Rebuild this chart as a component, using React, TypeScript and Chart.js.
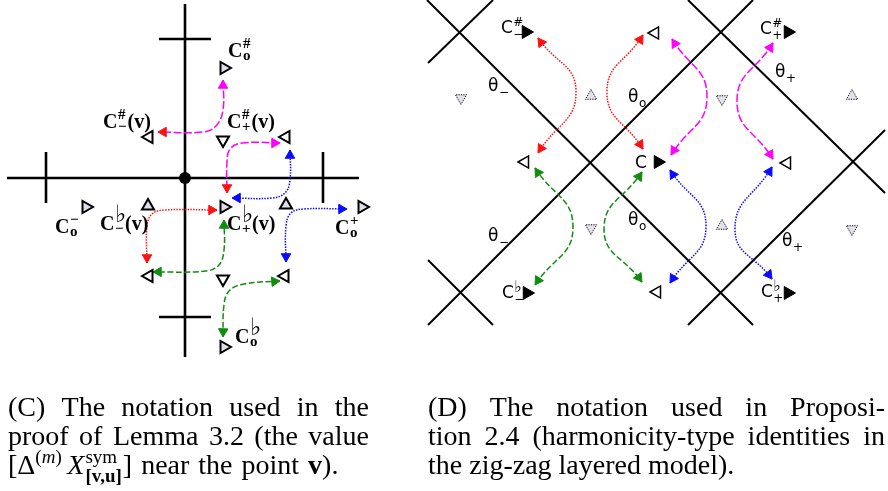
import { useEffect, useRef } from 'react';
import { Chart, registerables } from 'chart.js';

Chart.register(...registerables);

// ================= Panel (C) =================
const axisLinesC = [
  [185, 4, 185, 357],
  [7, 178, 359, 178],
  [159, 39, 211, 39],
  [159, 317, 211, 317],
  [46, 152, 46, 203],
  [323, 152, 323, 203],
];
const centerDotC = [[185, 178]];
const triRightC = [[224, 68], [86, 207], [224, 207], [362, 207], [224, 347]];
const triLeftC = [[149, 137], [286, 137], [149, 276], [285, 276]];
const triUpC = [[148, 206], [286, 205]];
const triDownC = [[223, 140], [223, 279]];

const arcMagentaUpC = [[223, 80], [223, 110], [216, 126], [203, 132], [158, 132]];
const arcMagentaRightC = [[280, 143], [242, 143], [230, 149], [227, 162], [227, 193]];
const arcBlueUpC = [[290, 150], [290, 180], [285, 193], [272, 198], [232, 198]];
const arcRedDownC = [[147, 263], [147, 226], [152, 214], [165, 210], [217, 210]];
const arcBlueDownC = [[286, 262], [286, 226], [291, 213], [304, 209], [347, 209]];
const arcGreenUpC = [[224, 220], [224, 250], [219, 265], [206, 271], [153, 272]];
const arcGreenRightC = [[280, 281], [244, 284], [229, 291], [224, 305], [223, 337]];

const labelsC = [
  { text: 'C', sup: '#', sub: 'o', tail: '', x: 228, y: 57 },
  { text: 'C', sup: '#', sub: '\u2212', tail: '(v)', x: 103, y: 128 },
  { text: 'C', sup: '#', sub: '+', tail: '(v)', x: 227, y: 128 },
  { text: 'C', sup: '\u2212', sub: 'o', tail: '', x: 55, y: 233 },
  { text: 'C', sup: '\u266D', sub: '\u2212', tail: '(v)', x: 100, y: 230 },
  { text: 'C', sup: '\u266D', sub: '+', tail: '(v)', x: 227, y: 230 },
  { text: 'C', sup: '+', sub: 'o', tail: '', x: 335, y: 234 },
  { text: 'C', sup: '\u266D', sub: 'o', tail: '', x: 235, y: 343 },
];

// ================= Panel (D) =================
const gridLinesD = [
  [428, 63, 493, 0],
  [427, 0, 753, 325],
  [428, 325, 753, 0],
  [428, 260, 493, 325],
  [688, 0, 885, 193],
  [688, 325, 885, 130],
];
const solidRightD = [[526, 32], [788, 32], [658, 162], [527, 293], [788, 293]];
const openLeftD = [[655, 33], [525, 162], [787, 163], [657, 292]];
const dottedUpD = [[591, 96], [852, 96], [722, 226]];
const dottedDownD = [[461, 98], [722, 99], [591, 228], [852, 229]];

const arcRedAD = [[538, 38], [576, 92], [538, 153]];
const arcRedBD = [[643, 35], [607, 92], [643, 149]];
const arcMagentaAD = [[672, 39], [707, 97], [671, 155]];
const arcMagentaBD = [[773, 43], [737, 101], [773, 159]];
const arcGreenAD = [[535, 168], [573, 227], [535, 285]];
const arcGreenBD = [[642, 172], [604, 229], [642, 282]];
const arcBlueAD = [[670, 170], [706, 226], [670, 283]];
const arcBlueBD = [[772, 167], [735, 229], [772, 279]];

const labelsD = [
  { text: 'C', sup: '#', sub: '\u2212', x: 501, y: 33 },
  { text: 'C', sup: '#', sub: '+', x: 760, y: 34 },
  { text: 'C', sup: '', sub: '', x: 635, y: 168 },
  { text: 'C', sup: '\u266D', sub: '\u2212', x: 502, y: 298 },
  { text: 'C', sup: '\u266D', sub: '+', x: 761, y: 297 },
  { text: '\u03B8', sup: '', sub: '\u2212', x: 488, y: 91 },
  { text: '\u03B8', sup: '', sub: 'o', x: 628, y: 102 },
  { text: '\u03B8', sup: '', sub: '+', x: 775, y: 77 },
  { text: '\u03B8', sup: '', sub: '\u2212', x: 488, y: 241 },
  { text: '\u03B8', sup: '', sub: 'o', x: 628, y: 225 },
  { text: '\u03B8', sup: '', sub: '+', x: 782, y: 246 },
];

// ================= Captions =================
const captionCLines = ['(C) The notation used in the', 'proof of Lemma 3.2 (the value'];
const captionCLast = [
  { t: '[\u0394', f: 'r', dy: 0 },
  { t: '(', f: 'rs', dy: -11 },
  { t: 'm', f: 'is', dy: -11 },
  { t: ')', f: 'rs', dy: -11 },
  { t: '\u2009X', f: 'i', dy: 0 },
  { t: 'sym', f: 'rs', dy: -11, stack: true },
  { t: '[v,u]', f: 'bs', dy: 8 },
  { t: ']', f: 'r', dy: 0 },
  { t: ' near the point ', f: 'r', dy: 0, spaced: true },
  { t: 'v', f: 'b', dy: 0 },
  { t: ').', f: 'r', dy: 0 },
];
const captionDLines = ['(D) The notation used in Proposi-', 'tion 2.4 (harmonicity-type identities in'];
const captionDLast = 'the zig-zag layered model).';
const captionBaselines = [416, 445, 474];
const captionCRange = [8, 369];
const captionDRange = [428, 885];

// ================= styles =================
const RED = '#ff1010';
const MAGENTA = '#ff00ff';
const BLUE = '#0a0aff';
const GREEN = '#108c10';
const DOT = [1.5, 1.3];
const LONGDASH = [8, 2.5];
const DASH = [6, 2.5];
const HEAD_R = 5.5;

const SERIF = '"Liberation Serif", "DejaVu Serif", serif';
const SANS = '"DejaVu Sans", sans-serif';

const pt = (p: number[]) => ({ x: p[0], y: p[1] });

function segDataset(s: number[], width: number) {
  return {
    data: [pt([s[0], s[1]]), pt([s[2], s[3]])],
    borderColor: '#000',
    borderWidth: width,
    pointRadius: 0,
    tension: 0,
    fill: false,
    order: 6,
    borderCapStyle: 'butt',
  };
}

function curveDataset(pts: number[][], color: string, dash: number[], tension: number) {
  return {
    data: pts.map(pt),
    borderColor: color,
    borderWidth: 1.5,
    borderDash: dash,
    pointRadius: 0,
    tension,
    fill: false,
    order: 5,
  };
}

function headsFor(pts: number[][], colors: string[]) {
  const n = pts.length;
  const ends = [
    [pts[0], pts[1]],
    [pts[n - 1], pts[n - 2]],
  ];
  return ends.map(([tip, prev], k) => {
    const dx = tip[0] - prev[0];
    const dy = tip[1] - prev[1];
    const len = Math.hypot(dx, dy) || 1;
    return {
      x: tip[0] - (dx / len) * HEAD_R,
      y: tip[1] - (dy / len) * HEAD_R,
      rot: (Math.atan2(dx, -dy) * 180) / Math.PI,
      color: colors[k],
    };
  });
}

function markerDataset(pts: number[][], rotation: number, radius: number, fill: string, border: string, bw: number, extra: any = {}) {
  return {
    data: pts.map(pt),
    showLine: false,
    pointStyle: 'triangle',
    pointRotation: rotation,
    pointRadius: radius,
    pointHoverRadius: radius,
    pointBackgroundColor: fill,
    pointBorderColor: border,
    pointBorderWidth: bw,
    pointHoverBorderWidth: bw,
    order: 2,
    ...extra,
  };
}

function drawScripted(ctx: CanvasRenderingContext2D, x: number, y: number, L: any, mainFont: string, scriptFont: string, flatFont: string, raise: number, drop: number) {
  ctx.font = mainFont;
  ctx.fillText(L.text, x, y);
  const w = ctx.measureText(L.text).width;
  const xs = x + w + 0.5;
  let sw = 0;
  if (L.sup) {
    const flat = L.sup === '\u266D';
    ctx.font = flat ? flatFont : scriptFont;
    ctx.fillText(L.sup, xs, y - raise + (flat ? 1 : 0));
    sw = Math.max(sw, ctx.measureText(L.sup).width * (flat ? 0.8 : 1));
  }
  if (L.sub) {
    ctx.font = scriptFont;
    ctx.fillText(L.sub, xs, y + drop);
    sw = Math.max(sw, ctx.measureText(L.sub).width);
  }
  if (L.tail) {
    ctx.font = mainFont;
    ctx.fillText(L.tail, xs + sw + 1, y);
  }
}

const fontMap: Record<string, string> = {
  r: `28px ${SERIF}`,
  i: `italic 28px ${SERIF}`,
  b: `bold 28px ${SERIF}`,
  rs: `19px ${SERIF}`,
  is: `italic 19px ${SERIF}`,
  bs: `bold 19px ${SERIF}`,
};

function drawJustified(ctx: CanvasRenderingContext2D, text: string, x0: number, x1: number, y: number) {
  ctx.font = fontMap.r;
  const words = text.split(' ');
  const widths = words.map((w) => ctx.measureText(w).width);
  const total = widths.reduce((a, b) => a + b, 0);
  const gap = (x1 - x0 - total) / (words.length - 1);
  let x = x0;
  words.forEach((w, i) => {
    ctx.fillText(w, x, y);
    x += widths[i] + gap;
  });
}

const diagramPlugin = {
  id: 'diagramText',
  beforeDatasetDraw(chart: any, args: any) {
    const ds = chart.data.datasets[args.index];
    if (ds && ds.dottedBorder) {
      chart.ctx.save();
      chart.ctx.setLineDash([1.2, 1.2]);
    }
  },
  afterDatasetDraw(chart: any, args: any) {
    const ds = chart.data.datasets[args.index];
    if (ds && ds.dottedBorder) chart.ctx.restore();
  },
  afterDatasetsDraw(chart: any) {
    const ctx: CanvasRenderingContext2D = chart.ctx;
    const xs = chart.scales.x;
    const ys = chart.scales.y;
    ctx.save();
    ctx.fillStyle = '#000';
    ctx.textBaseline = 'alphabetic';
    ctx.textAlign = 'left';
    labelsC.forEach((L) => {
      drawScripted(ctx, xs.getPixelForValue(L.x), ys.getPixelForValue(L.y), L, `bold 20px ${SERIF}`, `bold 15px ${SERIF}`, `bold 24px ${SANS}`, 9, 3);
    });
    labelsD.forEach((L) => {
      drawScripted(ctx, xs.getPixelForValue(L.x), ys.getPixelForValue(L.y), L, `17px ${SANS}`, `12px ${SANS}`, `16px ${SANS}`, 7, 5);
    });

    // captions
    const cx0 = xs.getPixelForValue(captionCRange[0]);
    const cx1 = xs.getPixelForValue(captionCRange[1]);
    const dx0 = xs.getPixelForValue(captionDRange[0]);
    const dx1 = xs.getPixelForValue(captionDRange[1]);
    const by = captionBaselines.map((b) => ys.getPixelForValue(b));
    captionCLines.forEach((t, i) => drawJustified(ctx, t, cx0, cx1, by[i]));
    captionDLines.forEach((t, i) => drawJustified(ctx, t, dx0, dx1, by[i]));
    ctx.font = fontMap.r;
    ctx.fillText(captionDLast, dx0, by[2]);
    let x = cx0;
    let stackStart = 0;
    let stackW = 0;
    captionCLast.forEach((run: any, i) => {
      ctx.font = fontMap[run.f];
      if (run.spaced) {
        const words = run.t.split(' ');
        const sp = ctx.measureText(' ').width + 2;
        words.forEach((wd: string, k: number) => {
          if (wd) ctx.fillText(wd, x, by[2]);
          x += ctx.measureText(wd).width + (k < words.length - 1 ? sp : 0);
        });
        return;
      }
      const w = ctx.measureText(run.t).width;
      if (run.stack) {
        stackStart = x + 1;
        stackW = w;
        ctx.fillText(run.t, stackStart, by[2] + run.dy);
        return;
      }
      const prev: any = captionCLast[i - 1];
      if (prev && prev.stack) {
        ctx.fillText(run.t, stackStart, by[2] + run.dy);
        x = stackStart + Math.max(stackW, w) + 1;
        return;
      }
      ctx.fillText(run.t, x, by[2] + run.dy);
      x += w;
    });
    ctx.restore();
  },
};

export default function App() {
  const ref = useRef<HTMLCanvasElement>(null);
  useEffect(() => {
    const datasets: any[] = [];
    axisLinesC.forEach((s) => datasets.push(segDataset(s, 2.6)));
    gridLinesD.forEach((s) => datasets.push(segDataset(s, 2)));

    const curves = [
      { pts: arcMagentaUpC, color: MAGENTA, dash: LONGDASH, t: 0.4, heads: [MAGENTA, RED] },
      { pts: arcMagentaRightC, color: MAGENTA, dash: LONGDASH, t: 0.4, heads: [MAGENTA, RED] },
      { pts: arcBlueUpC, color: BLUE, dash: DOT, t: 0.4, heads: [BLUE, BLUE] },
      { pts: arcRedDownC, color: RED, dash: DOT, t: 0.4, heads: [RED, RED] },
      { pts: arcBlueDownC, color: BLUE, dash: DOT, t: 0.4, heads: [BLUE, BLUE] },
      { pts: arcGreenUpC, color: GREEN, dash: DASH, t: 0.4, heads: [GREEN, GREEN] },
      { pts: arcGreenRightC, color: GREEN, dash: DASH, t: 0.4, heads: [GREEN, GREEN] },
      { pts: arcRedAD, color: RED, dash: DOT, t: 0.5, heads: [RED, RED] },
      { pts: arcRedBD, color: RED, dash: DOT, t: 0.5, heads: [RED, RED] },
      { pts: arcMagentaAD, color: MAGENTA, dash: LONGDASH, t: 0.5, heads: [MAGENTA, MAGENTA] },
      { pts: arcMagentaBD, color: MAGENTA, dash: LONGDASH, t: 0.5, heads: [MAGENTA, MAGENTA] },
      { pts: arcGreenAD, color: GREEN, dash: DASH, t: 0.5, heads: [GREEN, GREEN] },
      { pts: arcGreenBD, color: GREEN, dash: DASH, t: 0.5, heads: [GREEN, GREEN] },
      { pts: arcBlueAD, color: BLUE, dash: DOT, t: 0.5, heads: [BLUE, BLUE] },
      { pts: arcBlueBD, color: BLUE, dash: DOT, t: 0.5, heads: [BLUE, BLUE] },
    ];
    const heads: any[] = [];
    curves.forEach((c) => {
      datasets.push(curveDataset(c.pts, c.color, c.dash, c.t));
      heads.push(...headsFor(c.pts, c.heads));
    });
    datasets.push({
      data: heads.map((h) => ({ x: h.x, y: h.y })),
      showLine: false,
      pointStyle: 'triangle',
      pointRadius: HEAD_R,
      pointHoverRadius: HEAD_R,
      pointRotation: heads.map((h) => h.rot),
      pointBackgroundColor: heads.map((h) => h.color),
      pointBorderColor: heads.map((h) => h.color),
      pointBorderWidth: 1,
      order: 3,
    });

    const GRAYFILL = '#dcdde8';
    datasets.push(markerDataset(triRightC, 90, 7, GRAYFILL, '#000', 2));
    datasets.push(markerDataset(triUpC, 0, 7, GRAYFILL, '#000', 2));
    datasets.push(markerDataset(triLeftC, 270, 7, '#fff', '#000', 2));
    datasets.push(markerDataset(triDownC, 180, 7, '#fff', '#000', 2));
    datasets.push({
      data: centerDotC.map(pt),
      showLine: false,
      pointStyle: 'circle',
      pointRadius: 6,
      pointHoverRadius: 6,
      pointBackgroundColor: '#000',
      pointBorderColor: '#000',
      pointBorderWidth: 0,
      order: 1,
    });
    datasets.push(markerDataset(solidRightD, 90, 7.5, '#000', '#000', 1));
    datasets.push(markerDataset(openLeftD, 270, 7, '#fff', '#000', 1.5));
    datasets.push(markerDataset(dottedUpD, 0, 6.5, '#e2e2ea', '#000', 1, { dottedBorder: true }));
    datasets.push(markerDataset(dottedDownD, 180, 6.5, '#e2e2ea', '#000', 1, { dottedBorder: true }));

    const chart = new Chart(ref.current as HTMLCanvasElement, {
      type: 'line',
      data: { datasets },
      options: {
        animation: false,
        responsive: false,
        events: [],
        layout: { padding: 0, autoPadding: false },
        plugins: { legend: { display: false }, tooltip: { enabled: false } },
        scales: {
          x: { type: 'linear', min: 0, max: 888, display: false },
          y: { type: 'linear', min: 0, max: 491, reverse: true, display: false },
        },
      },
      plugins: [diagramPlugin],
    } as any);
    return () => chart.destroy();
  }, []);
  return (
    <div style={{ position: 'absolute', left: 0, top: 0, width: 888, height: 491, background: '#fff' }}>
      <canvas ref={ref} width={888} height={491} style={{ display: 'block' }} />
    </div>
  );
}
